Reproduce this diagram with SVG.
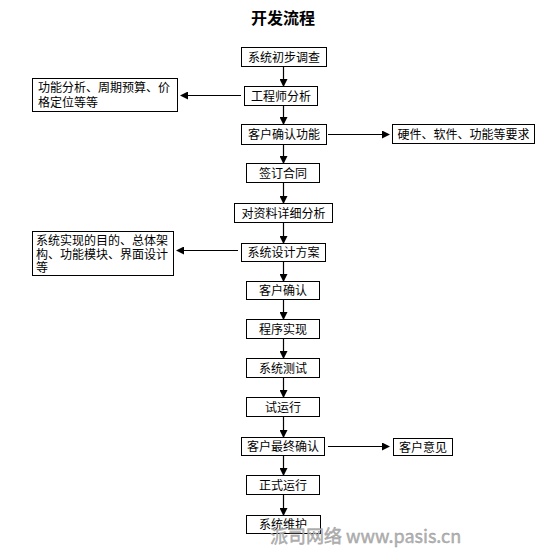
<svg xmlns="http://www.w3.org/2000/svg" width="553" height="549" viewBox="0 0 553 549">
<style>
  .box { fill: #fff; stroke: #000; stroke-width: 1; }
  .t { font-family: "Noto Sans CJK SC", "Liberation Sans", sans-serif; font-size: 12px; fill: #000; }
  .c { text-anchor: middle; }
  .title { font-family: "Noto Sans CJK SC", "Liberation Sans", sans-serif; font-size: 16px; font-weight: bold; text-anchor: middle; fill: #000; }
  .wm { font-family: "Noto Sans CJK SC", "Liberation Sans", sans-serif; font-size: 18px; fill: #b4b4b4; stroke: #9a9a9a; stroke-width: 0.4; }
  .ln { stroke: #000; stroke-width: 1.2; fill: none; marker-end: url(#ah); }
</style>
<defs>
  <marker id="ah" markerWidth="8" markerHeight="8" refX="7" refY="4" orient="auto" markerUnits="userSpaceOnUse">
    <path d="M0,0 L8,4 L0,8 Z" fill="#000"/>
  </marker>
</defs>
<rect width="553" height="549" fill="#fff"/>
<text class="title" x="283" y="24">开发流程</text>

<g id="connectors">
  <line class="ln" x1="283.5" y1="66" x2="283.5" y2="86"/>
  <line class="ln" x1="283.5" y1="105" x2="283.5" y2="124"/>
  <line class="ln" x1="283.5" y1="144" x2="283.5" y2="163"/>
  <line class="ln" x1="283.5" y1="182" x2="283.5" y2="203"/>
  <line class="ln" x1="283.5" y1="222" x2="283.5" y2="243"/>
  <line class="ln" x1="283.5" y1="261" x2="283.5" y2="281"/>
  <line class="ln" x1="283.5" y1="299" x2="283.5" y2="319"/>
  <line class="ln" x1="283.5" y1="338" x2="283.5" y2="358"/>
  <line class="ln" x1="283.5" y1="377" x2="283.5" y2="397"/>
  <line class="ln" x1="283.5" y1="416" x2="283.5" y2="437"/>
  <line class="ln" x1="283.5" y1="455" x2="283.5" y2="475"/>
  <line class="ln" x1="283.5" y1="494" x2="283.5" y2="515"/>
  <line class="ln" x1="241" y1="95.5" x2="181" y2="95.5"/>
  <line class="ln" x1="328" y1="134.5" x2="389" y2="134.5"/>
  <line class="ln" x1="238" y1="250.5" x2="177" y2="250.5"/>
  <line class="ln" x1="328" y1="446.5" x2="389" y2="446.5"/>
</g>

<g id="n1"><rect class="box" x="241.5" y="47.5" width="85" height="19"/><text class="t c" x="284" y="61.5">系统初步调查</text></g>
<g id="n2"><rect class="box" x="244.5" y="86.5" width="73" height="19"/><text class="t c" x="281" y="100.5">工程师分析</text></g>
<g id="n3"><rect class="box" x="241.5" y="124.5" width="85" height="20"/><text class="t c" x="284" y="139">客户确认功能</text></g>
<g id="n4"><rect class="box" x="246.5" y="163.5" width="73" height="19"/><text class="t c" x="283" y="177.5">签订合同</text></g>
<g id="n5"><rect class="box" x="234.5" y="203.5" width="98" height="19"/><text class="t c" x="283.5" y="217.5">对资料详细分析</text></g>
<g id="n6"><rect class="box" x="241.5" y="243.5" width="84" height="18"/><text class="t c" x="283.5" y="257">系统设计方案</text></g>
<g id="n7"><rect class="box" x="246.5" y="281.5" width="73" height="18"/><text class="t c" x="283" y="295">客户确认</text></g>
<g id="n8"><rect class="box" x="246.5" y="319.5" width="73" height="19"/><text class="t c" x="283" y="333.5">程序实现</text></g>
<g id="n9"><rect class="box" x="246.5" y="358.5" width="73" height="19"/><text class="t c" x="283" y="372.5">系统测试</text></g>
<g id="n10"><rect class="box" x="246.5" y="397.5" width="73" height="19"/><text class="t c" x="283" y="411.5">试运行</text></g>
<g id="n11"><rect class="box" x="241.5" y="437.5" width="83" height="18"/><text class="t c" x="283" y="451">客户最终确认</text></g>
<g id="n12"><rect class="box" x="246.5" y="475.5" width="73" height="19"/><text class="t c" x="283" y="489.5">正式运行</text></g>
<g id="n13"><rect class="box" x="246.5" y="515.5" width="74" height="18"/><text class="t c" x="283" y="529">系统维护</text></g>

<g id="sideA"><rect class="box" x="32.5" y="78.5" width="145" height="33"/>
  <text class="t"><tspan x="38" y="92">功能分析、周期预算、价</tspan><tspan x="38" y="106.5">格定位等等</tspan></text></g>
<g id="sideB"><rect class="box" x="392.5" y="124.5" width="142" height="19"/><text class="t c" x="463.5" y="138.5">硬件、软件、功能等要求</text></g>
<g id="sideC"><rect class="box" x="32.5" y="231.5" width="141" height="44"/>
  <text class="t"><tspan x="36" y="244.5">系统实现的目的、总体架</tspan><tspan x="36" y="258.5">构、功能模块、界面设计</tspan><tspan x="36" y="272">等</tspan></text></g>
<g id="sideD"><rect class="box" x="393.5" y="438.5" width="59" height="17"/><text class="t c" x="423" y="451.5">客户意见</text></g>

<text class="wm" x="270" y="543">派司网络 www.pasis.cn</text>
</svg>
